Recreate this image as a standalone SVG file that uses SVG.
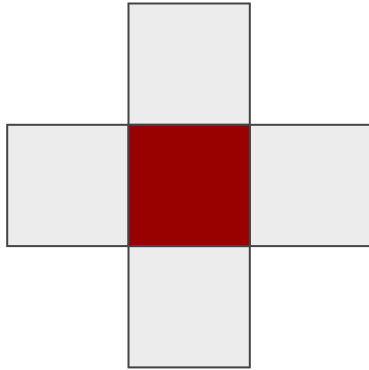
<svg xmlns="http://www.w3.org/2000/svg" width="369" height="370" viewBox="0 0 369 370">
<style>
.cell{fill:#ececec;stroke:#444;stroke-width:2}
.center{fill:#990000;stroke:#444;stroke-width:2}
</style>
<rect width="369" height="370" fill="#fff"/>
<g id="top"><rect class="cell" x="128.5" y="3.5" width="121.3" height="121.3"/></g>
<g id="left"><rect class="cell" x="7.2" y="124.8" width="121.3" height="121.3"/></g>
<g id="right"><rect class="cell" x="249.8" y="124.8" width="121.3" height="121.3"/></g>
<g id="bottom"><rect class="cell" x="128.5" y="246.1" width="121.3" height="121.3"/></g>
<g id="center"><rect class="center" x="128.5" y="124.8" width="121.3" height="121.3"/></g>
<g id="connectors"/>
</svg>
